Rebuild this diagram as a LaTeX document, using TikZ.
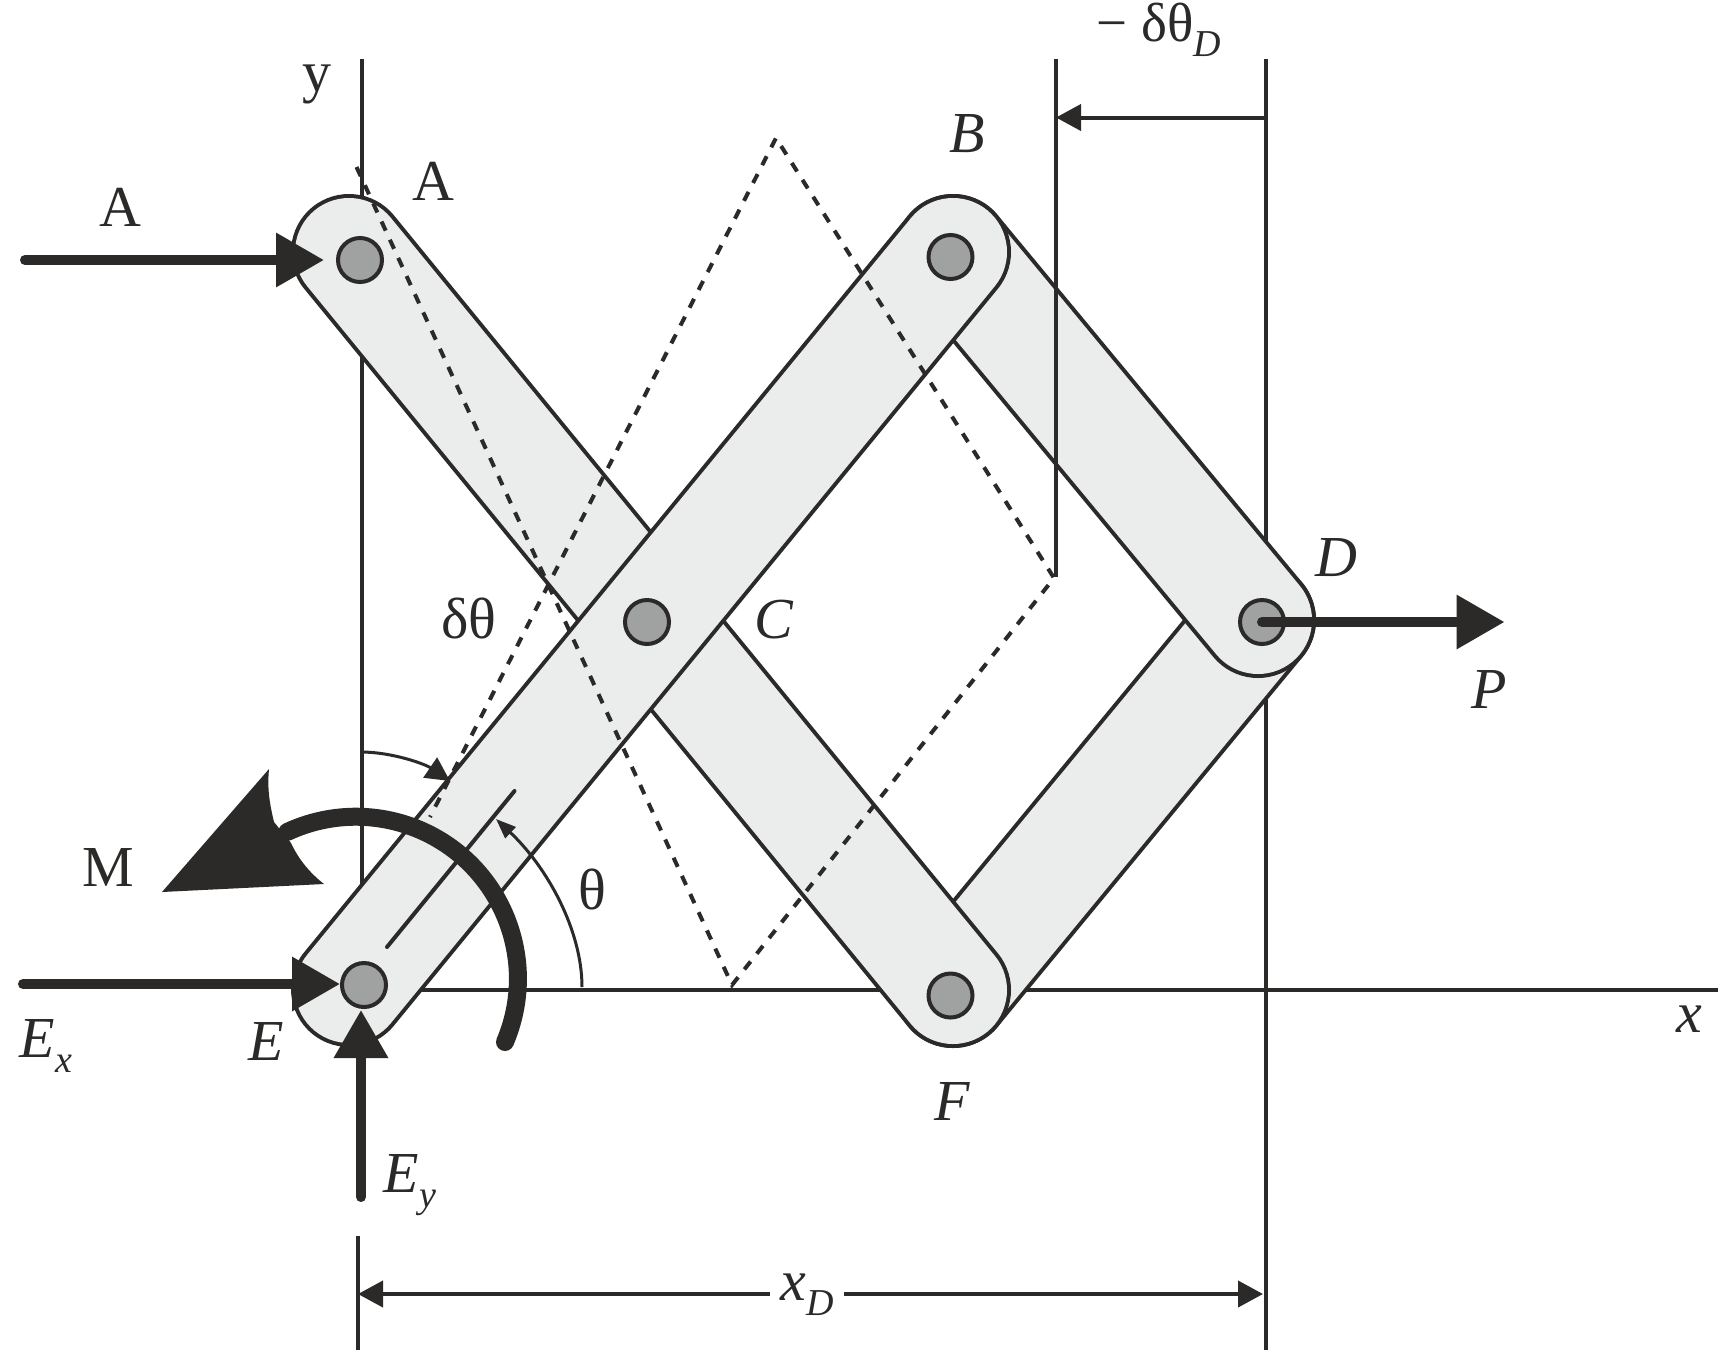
\documentclass[tikz,border=0pt]{standalone}
\usepackage{fontspec}
\setmainfont{Liberation Serif}
\usetikzlibrary{arrows.meta}
\definecolor{ink}{HTML}{2B2A29}
\definecolor{linkfill}{HTML}{EBEDEC}
\definecolor{pinfill}{HTML}{A0A1A1}
\newcommand{\sbs}[1]{\raisebox{-15pt}{\fontsize{38}{40}\selectfont\itshape #1}}
\newcommand{\linkbar}[2]{%
  \draw[line width=116pt,ink,line cap=round] (#1) -- (#2);
  \draw[line width=108pt,linkfill,line cap=round] (#1) -- (#2);}
\tikzset{
  thinline/.style={line width=4pt,draw=ink},
  dashline/.style={line width=4pt,draw=ink,dash pattern=on 10pt off 10pt},
  force/.style={line width=10pt,draw=ink,line cap=round,fill=none},
  bighead/.style={-{Triangle[length=48pt,width=52pt,color=ink]}},
  pin/.style={circle,draw=ink,fill=pinfill,line width=4pt,minimum size=44pt,inner sep=0pt},
  lab/.style={anchor=base,inner sep=0pt,text=ink,font=\fontsize{58}{60}\selectfont},
  ilab/.style={anchor=base,inner sep=0pt,text=ink,font=\fontsize{58}{60}\selectfont\itshape}
}
\begin{document}
\begin{tikzpicture}[x=1pt,y=-1pt]
\useasboundingbox (0,0) rectangle (1721,1353);
\fill[white] (0,0) rectangle (1721,1353);
% link centres
\coordinate (a0) at (349,252);
\coordinate (b0) at (953,252);
\coordinate (d0) at (1258,620);
\coordinate (f0) at (953,990);
\coordinate (e0) at (349,989);
% axes and extension lines
\coordinate (ytop) at (362,59);
\coordinate (ybot) at (362,900);
\coordinate (xleft) at (400,990);
\coordinate (xright) at (1718,990);
\coordinate (rtop) at (1266,59);
\coordinate (rbot) at (1266,1350);
\coordinate (ltop) at (358,1236);
\coordinate (lbot) at (358,1350);
\draw[thinline] (ytop) -- (ybot);
\draw[thinline] (xleft) -- (xright);
\draw[thinline] (rtop) -- (rbot);
\draw[thinline] (ltop) -- (lbot);
% links
\linkbar{d0}{f0}
\linkbar{a0}{f0}
\linkbar{b0}{d0}
\linkbar{b0}{e0}
% second extension line, over the link
\coordinate (mtop) at (1056,59);
\coordinate (mbot) at (1056,577);
\draw[thinline] (mtop) -- (mbot);
% displaced position
\coordinate (dA) at (356.5,167);
\coordinate (dT) at (776,138);
\coordinate (dR) at (1054,578);
\coordinate (dB) at (732,985);
\coordinate (dL) at (430,817);
\draw[dashline] (dA) -- (dB) -- (dR) -- (dT) -- (dL);
% pins
\node[pin] (A) at (360,260) {};
\node[pin] (B) at (950.5,257) {};
\node[pin] (C) at (647,622) {};
\node[pin] (D) at (1262,622) {};
\node[pin] (E) at (364,985) {};
\node[pin] (F) at (950.5,995.5) {};
% top dimension
\coordinate (td1) at (1266,117.5);
\coordinate (td2) at (1056,117.5);
\draw[line width=4pt,draw=ink,-{Triangle[length=25pt,width=26pt,color=ink]}] (td1) -- (td2);
% bottom dimension
\coordinate (bd1) at (358,1294);
\coordinate (bd2) at (1263,1294);
\draw[line width=4pt,draw=ink,{Triangle[length=25pt,width=26pt,color=ink]}-{Triangle[length=25pt,width=26pt,color=ink]}] (bd1) -- (bd2);
% theta line and arcs
\coordinate (th1) at (387,947);
\coordinate (th2) at (514.5,791);
\draw[thinline,line cap=round] (th1) -- (th2);
\coordinate (ta) at (582,987);
\coordinate (tb) at (496,819);
\draw[line width=3pt,draw=ink,-{Triangle[length=20pt,width=15pt,color=ink]}] (ta) .. controls (582,930) and (547,867) .. (tb);
\coordinate (dta) at (361,752);
\coordinate (dtb) at (450,781);
\draw[line width=3pt,draw=ink,-{Triangle[length=24pt,width=24pt,color=ink]}] (dta) .. controls (392,752) and (425,764) .. (dtb);
% moment
\coordinate (m0) at (505,1042);
\draw[line width=18pt,draw=ink,line cap=round] (m0) arc[start angle=-23,end angle=115,radius=162pt];
\fill[ink] (162,892) -- (269,769) .. controls (267,790) and (270,805) .. (274,822)
  -- (291,843) .. controls (299,860) and (310,873) .. (324,884) -- cycle;
% forces
\coordinate (fa1) at (25,260);
\coordinate (fa2) at (324,260);
\draw[force,bighead] (fa1) -- (fa2);
\coordinate (fp1) at (1262,622);
\coordinate (fp2) at (1504.5,622);
\draw[force,bighead] (fp1) -- (fp2);
\coordinate (fx1) at (23,984);
\coordinate (fx2) at (340,984);
\draw[force,bighead] (fx1) -- (fx2);
\coordinate (fy1) at (361,1197);
\coordinate (fy2) at (361,1010);
\draw[force,bighead] (fy1) -- (fy2);
% labels
\node[lab] (ly) at (316.5,91) {y};
\node[lab] (la1) at (433,200) {A};
\node[lab] (la2) at (120.7,226) {A};
\node[ilab] (lb) at (967,152.6) {B};
\node[lab,font=\fontsize{55}{58}\selectfont] (ldt) at (1159,41) {− δθ\sbs{D}};
\node[ilab] (ld) at (1336,576) {D};
\node[ilab] (lp) at (1489,708) {P};
\node[ilab] (lc) at (773.5,638) {C};
\node[lab] (ldth) at (469,638) {δθ};
\node[lab] (lm) at (108,886) {M};
\node[lab] (lth) at (592,909) {θ};
\node[ilab] (le) at (266,1060) {E};
\node[ilab] (lex) at (46,1057) {E\sbs{x}};
\node[ilab] (ley) at (410,1192) {E\sbs{y}};
\node[ilab] (lf) at (952,1120) {F};
\node[ilab] (lx) at (1689,1032) {x};
\node[ilab,fill=white,inner xsep=10pt,inner ysep=6pt] (lxd) at (807,1300) {x\sbs{D}};
\end{tikzpicture}
\end{document}
